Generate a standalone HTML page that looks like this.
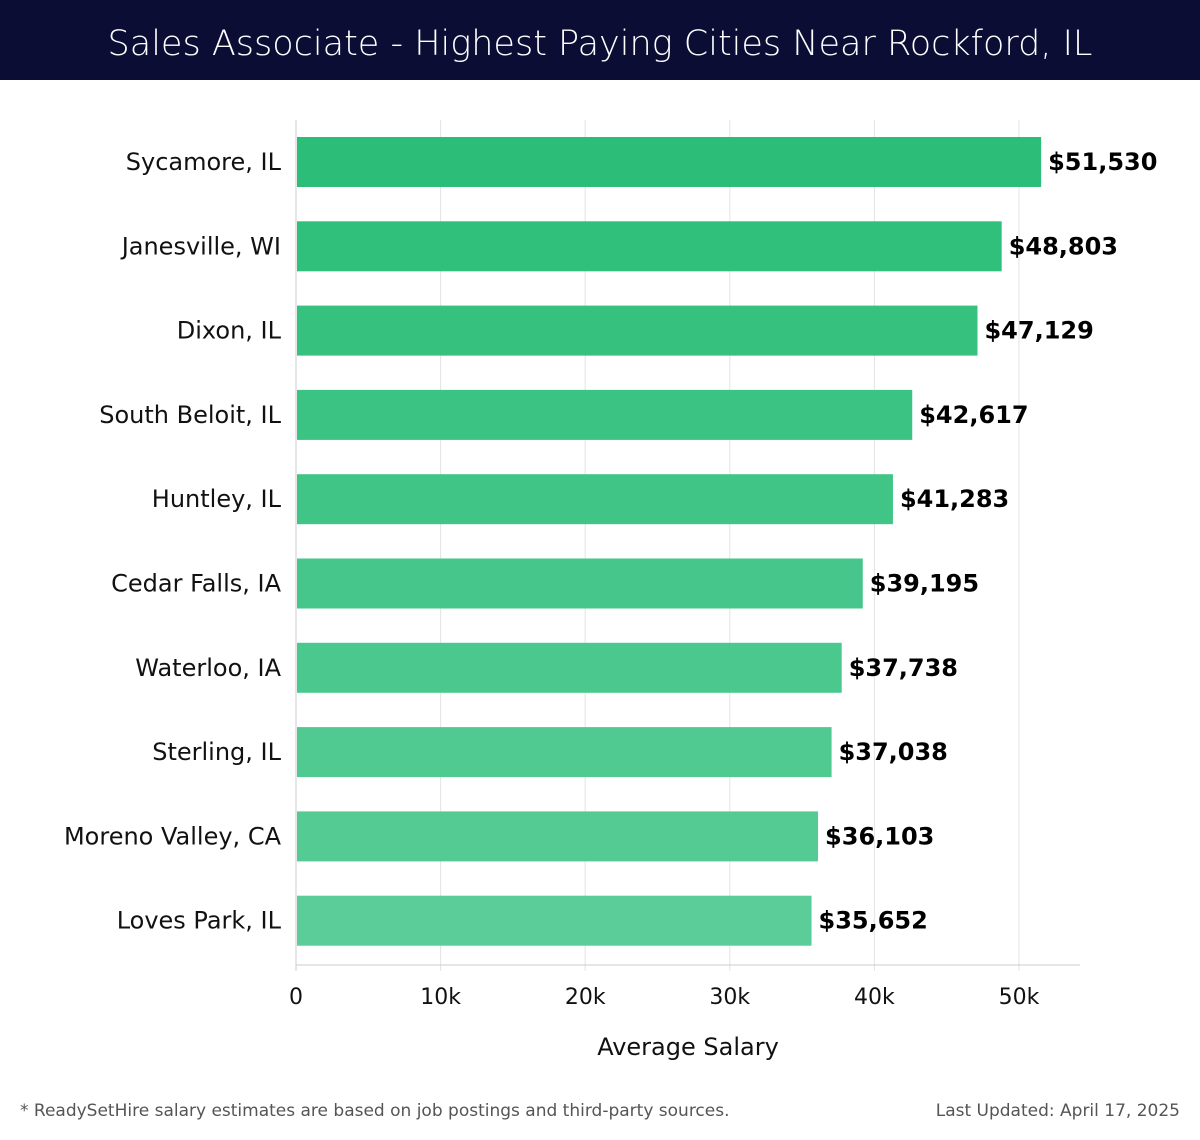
<!DOCTYPE html>
<html><head><meta charset="utf-8"><style>
body{margin:0;width:1200px;height:1140px;background:#fff;overflow:hidden;font-family:"DejaVu Sans","Liberation Sans",sans-serif;}
#hdr{position:absolute;left:0;top:0;width:1200px;height:80px;background:#0b0d35;color:#fff;font-size:35px;text-align:center;line-height:88px;font-family:"DejaVu Sans","Liberation Sans",sans-serif;font-weight:300;}
svg{position:absolute;left:0;top:0;}
.foot{position:absolute;top:1101px;font-size:17px;color:#555;}
</style></head><body>
<div id="hdr">Sales Associate - Highest Paying Cities Near Rockford, IL</div>
<svg id="chart" width="1200" height="1140"></svg>
<div class="foot" style="left:20px">* ReadySetHire salary estimates are based on job postings and third-party sources.</div>
<div class="foot" style="right:20px">Last Updated: April 17, 2025</div>
<script>
const categories=["Sycamore, IL","Janesville, WI","Dixon, IL","South Beloit, IL","Huntley, IL","Cedar Falls, IA","Waterloo, IA","Sterling, IL","Moreno Valley, CA","Loves Park, IL"];
const salaries=[51530,48803,47129,42617,41283,39195,37738,37038,36103,35652];
const ticks=[0,10000,20000,30000,40000,50000];
const tickLabels=["0","10k","20k","30k","40k","50k"];
const NS="http://www.w3.org/2000/svg";
const svg=document.getElementById('chart');
const x0=296,pxPer=(1019-296)/50000,yTop=120,yBot=965,first=162,step=84.3,bh=50;
const xs=v=>x0+v*pxPer, ys=i=>first+i*step;
function mk(t,a,p){const e=document.createElementNS(NS,t);for(const k in a)e.setAttribute(k,a[k]);(p||svg).appendChild(e);return e;}
ticks.forEach((t,i)=>{
  const g=mk('line',{x1:xs(t),x2:xs(t),y1:yTop,y2:yBot+6,stroke:i==0?'#ccc':'#e3e3e3','stroke-width':1});
  
  
  const l=mk('text',{x:xs(t),y:1004,'text-anchor':'middle','font-size':22,fill:'#111'});
  l.textContent=tickLabels[i];
  
  
});
const ax=mk('line',{x1:x0,x2:1080,y1:yBot,y2:yBot,stroke:'#ccc'});


const c1=[44,190,120],c2=[90,205,152];
categories.forEach((c,i)=>{
  const f=i/(categories.length-1);
  const col=`rgb(${c1.map((v,k)=>Math.round(v+(c2[k]-v)*f)).join(',')})`;
  const y=ys(i);
  const r=mk('rect',{x:x0+1,y:y-bh/2,width:xs(salaries[i])-x0-1,height:bh,fill:col});
  
  
  const lb=mk('text',{x:281,y:y+8,'text-anchor':'end','font-size':24,fill:'#111'});
  lb.textContent=c;
  
  
  const v=mk('text',{x:xs(salaries[i])+7,y:y+8,'font-size':24,'font-weight':'bold',fill:'#000'});
  v.textContent='$'+salaries[i].toLocaleString('en-US');
  
  
});
const at=mk('text',{x:688,y:1055,'text-anchor':'middle','font-size':24,fill:'#111'});
at.textContent='Average Salary';


</script>
</body></html>
